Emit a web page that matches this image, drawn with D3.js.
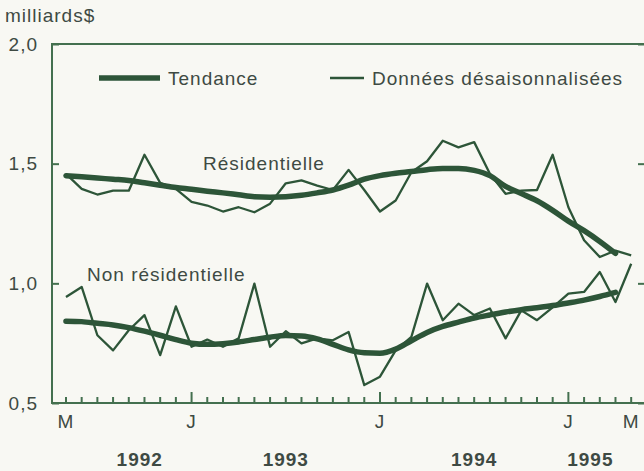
<!DOCTYPE html>
<html>
<head>
<meta charset="utf-8">
<script src="https://cdn.jsdelivr.net/npm/d3@7"></script>
<style>
  body { margin: 0; background: #f8f8f3; }
  svg { display: block; }
  text { font-family: "Liberation Sans", Arial, sans-serif; fill: #3e4a43; letter-spacing: 1px; }
</style>
</head>
<body>
<div class="mainviz"></div>
<script>
// monthly index 0 = mai 1992 ... 36 = mai 1995
var residentielData = [1.457, 1.395, 1.371, 1.387, 1.387, 1.537, 1.42, 1.395, 1.34, 1.325,
	1.30, 1.318, 1.297, 1.333, 1.418, 1.43, 1.408, 1.39, 1.474, 1.39, 1.30, 1.346, 1.464,
	1.51, 1.596, 1.568, 1.59, 1.458, 1.374, 1.387, 1.39, 1.537, 1.318, 1.18, 1.11, 1.137, 1.117];
var residentielTrend = [1.45, 1.445, 1.44, 1.435, 1.43, 1.42, 1.41, 1.40, 1.393, 1.385,
	1.378, 1.37, 1.362, 1.36, 1.362, 1.368, 1.378, 1.39, 1.41, 1.435, 1.45, 1.46, 1.467,
	1.475, 1.48, 1.48, 1.472, 1.45, 1.405, 1.375, 1.345, 1.305, 1.26, 1.22, 1.175, 1.125];
var nonResData = [0.943, 0.985, 0.783, 0.72, 0.804, 0.867, 0.70, 0.904, 0.735, 0.765,
	0.735, 0.77, 0.999, 0.735, 0.80, 0.749, 0.77, 0.762, 0.797, 0.575, 0.61, 0.72, 0.776,
	0.999, 0.846, 0.915, 0.867, 0.895, 0.77, 0.887, 0.846, 0.90, 0.957, 0.964, 1.047, 0.922, 1.082];
var nonResTrend = [0.842, 0.84, 0.833, 0.826, 0.815, 0.80, 0.783, 0.765, 0.75, 0.745,
	0.748, 0.755, 0.765, 0.775, 0.782, 0.78, 0.768, 0.745, 0.722, 0.71, 0.708, 0.725, 0.76,
	0.795, 0.82, 0.838, 0.855, 0.868, 0.88, 0.89, 0.898, 0.907, 0.918, 0.93, 0.945, 0.962];

var yTicks = [0.5, 1.0, 1.5, 2.0];
var monthLabels = [{ m: 0, t: "M" }, { m: 8, t: "J" }, { m: 20, t: "J" }, { m: 32, t: "J" }, { m: 36, t: "M" }];
var yearLabels = [{ m: 4.7, t: "1992" }, { m: 14, t: "1993" }, { m: 26, t: "1994" }, { m: 33.4, t: "1995" }];
var januaryMonths = [8, 20, 32];

var width = 644, height = 471;
var plotLeft = 52, plotRight = 645, plotTop = 44, plotBottom = 403;
var lineColor = "#2d5538", axisColor = "#44704f";
var fs = 19;

var svg = d3.select(".mainviz").append("svg")
	.attr("width", width)
	.attr("height", height);

svg.append("rect").attr("width", width).attr("height", height).attr("fill", "#f8f8f3");

var x = d3.scaleLinear()
	.domain([-0.89, 36.88])
	.range([plotLeft, plotRight]);

var y = d3.scaleLinear()
	.domain([0.5, 2.0])
	.range([plotBottom, plotTop]);

var fr = function (v) { return d3.format(".1f")(v).replace(".", ","); };

// frame
svg.append("path")
	.attr("d", "M" + plotRight + "," + plotTop + "H" + plotLeft + "V" + plotBottom + "H" + plotRight)
	.attr("fill", "none")
	.attr("stroke", axisColor)
	.attr("stroke-width", 2);

// y ticks left and right (pointing inward)
var yAxisL = d3.axisLeft(y).tickValues(yTicks).tickSize(-7).tickFormat(fr).tickPadding(14);
var gy = svg.append("g")
	.attr("transform", "translate(" + plotLeft + ",0)")
	.call(yAxisL);
gy.select(".domain").remove();
gy.selectAll("line").attr("stroke", axisColor).attr("stroke-width", 2);
gy.selectAll("text").attr("font-size", fs).attr("fill", "#3e4a43")
	.attr("font-family", "Liberation Sans, Arial, sans-serif");

var yAxisR = d3.axisRight(y).tickValues(yTicks).tickSize(-7).tickFormat("");
var gyr = svg.append("g")
	.attr("transform", "translate(" + plotRight + ",0)")
	.call(yAxisR);
gyr.select(".domain").remove();
gyr.selectAll("line").attr("stroke", axisColor).attr("stroke-width", 2);

// monthly ticks along the bottom
var months = d3.range(0, 37);
svg.append("g").selectAll("line")
	.data(months)
	.enter().append("line")
	.attr("x1", function (d) { return x(d); })
	.attr("x2", function (d) { return x(d); })
	.attr("y1", plotBottom)
	.attr("y2", function (d) { return januaryMonths.indexOf(d) >= 0 ? plotBottom - 11 : plotBottom - 6; })
	.attr("stroke", axisColor)
	.attr("stroke-width", 2);

svg.append("g").selectAll("text")
	.data(monthLabels)
	.enter().append("text")
	.attr("x", function (d) { return x(d.m); })
	.attr("y", 428)
	.attr("text-anchor", "middle")
	.attr("font-size", fs)
	.text(function (d) { return d.t; });

svg.append("g").selectAll("text")
	.data(yearLabels)
	.enter().append("text")
	.attr("x", function (d) { return x(d.m); })
	.attr("y", 466)
	.attr("text-anchor", "middle")
	.attr("font-size", fs)
	.attr("font-weight", "bold")
	.text(function (d) { return d.t; });

svg.append("text")
	.attr("x", 5).attr("y", 22)
	.attr("font-size", fs)
	.text("milliards$");

// series
var line = d3.line()
	.x(function (d, i) { return x(i); })
	.y(function (d) { return y(d); });

var trendLine = d3.line()
	.x(function (d, i) { return x(i); })
	.y(function (d) { return y(d); })
	.curve(d3.curveMonotoneX);

[residentielData, nonResData].forEach(function (s) {
	svg.append("path")
		.attr("d", line(s))
		.attr("fill", "none")
		.attr("stroke", lineColor)
		.attr("stroke-width", 2.3)
		.attr("stroke-linejoin", "round");
});

[residentielTrend, nonResTrend].forEach(function (s) {
	svg.append("path")
		.attr("d", trendLine(s))
		.attr("fill", "none")
		.attr("stroke", lineColor)
		.attr("stroke-width", 5.5)
		.attr("stroke-linecap", "round");
});

svg.append("text").attr("x", 203).attr("y", 170).attr("font-size", fs).text("Résidentielle");
svg.append("text").attr("x", 87).attr("y", 281).attr("font-size", fs).text("Non résidentielle");

// legend
var lg = svg.append("g");
lg.append("line").attr("x1", 99).attr("x2", 160).attr("y1", 78).attr("y2", 78)
	.attr("stroke", lineColor).attr("stroke-width", 5.5);
lg.append("text").attr("x", 168).attr("y", 85).attr("font-size", fs).text("Tendance");
lg.append("line").attr("x1", 330).attr("x2", 364).attr("y1", 78).attr("y2", 78)
	.attr("stroke", lineColor).attr("stroke-width", 2.3);
lg.append("text").attr("x", 372).attr("y", 85).attr("font-size", fs).text("Données désaisonnalisées");
</script>
</body>
</html>
